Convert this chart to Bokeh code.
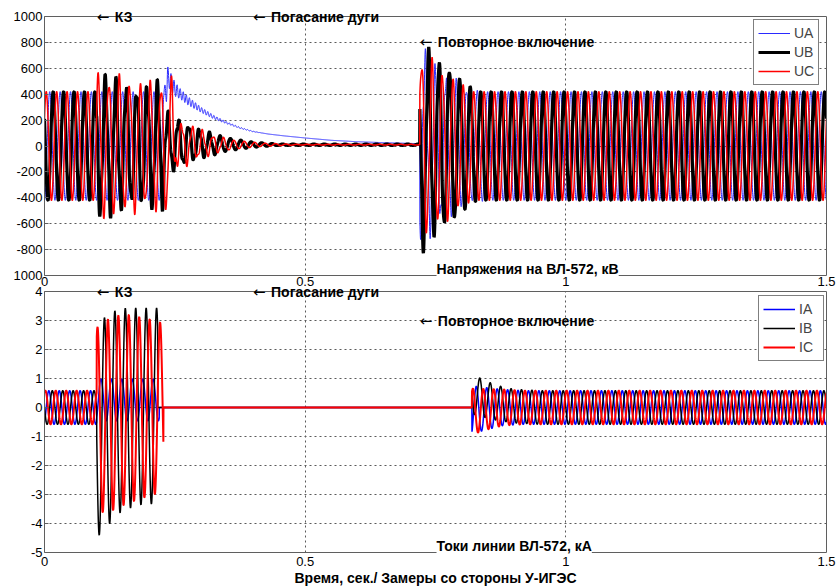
import numpy as np
from bokeh.plotting import figure
from bokeh.models import Range1d, LinearAxis, FixedTicker, Label, Span
from bokeh.layouts import column
from bokeh.embed import file_html
from bokeh.resources import INLINE

# ----------------- values -----------------
F_NET = 50.0          # network frequency, Hz (5 periods per 0.1 s in the picture)
T_END = 1.5
DT = 0.00025

time_ticks = [0, 0.5, 1, 1.5]
time_tick_labels = ["0", "0.5", "1", "1.5"]
u_ticks = [-1000, -800, -600, -400, -200, 0, 200, 400, 600, 800, 1000]
u_tick_labels = ["1000", "-800", "-600", "-400", "-200", "0", "200", "400", "600", "800", "1000"]
i_ticks = [-5, -4, -3, -2, -1, 0, 1, 2, 3, 4]
i_tick_labels = ["-5", "-4", "-3", "-2", "-1", "0", "1", "2", "3", "4"]
u_lim = (-1000, 1000)
i_lim = (-5, 4)

u_names = ["UA", "UB", "UC"]
i_names = ["IA", "IB", "IC"]

event_times = [0.1, 0.4, 0.72]
event_arrow = "\u2190"
event_texts = ["КЗ", "Погасание дуги", "Повторное включение"]
event_u_levels = [1000, 1000, 800]
event_i_levels = [4, 4, 3]

u_title = "Напряжения на ВЛ-572, кВ"
i_title = "Токи линии ВЛ-572, кА"
x_title = "Время, сек./ Замеры со стороны У-ИГЭС"

# phase angles of the 50 Hz component, degrees
u_phase = [-90, 150, 30]
i_phase = [-60, 180, 60]

# --- voltage UA, kV: envelope key points (time, amplitude, offset) ---
ua_t   = [0.0, 0.229, 0.236, 0.25, 0.275, 0.30, 0.325, 0.35, 0.375, 0.40, 0.43, 0.46, 0.50, 0.55, 0.60, 0.65, 0.7199, 0.72, 0.74, 0.77, 0.80, 0.83, 1.5]
ua_amp = [420, 420, 0, 0, 0, 0, 0, 0, 0, 0, 0, 0, 0, 0, 0, 0, 0, 680, 600, 520, 450, 420, 420]
ua_dc  = [0, 0, 540, 440, 350, 280, 222, 178, 140, 112, 92, 78, 62, 44, 33, 26, 18, 0, 0, 0, 0, 0, 0]
ua_ring_t   = [0.0, 0.229, 0.234, 0.26, 0.30, 0.35, 0.42, 0.7199, 0.72, 0.75, 0.80, 0.85, 1.5]
ua_ring_amp = [0, 0, 80, 40, 20, 8, 0, 0, 150, 100, 40, 0, 0]
ua_ring_f = 170

# --- voltage UB, kV ---
ub_t   = [0.0, 0.1, 0.1001, 0.13, 0.16, 0.20, 0.226, 0.232, 0.26, 0.30, 0.35, 0.40, 0.45, 0.7199, 0.72, 0.74, 0.78, 0.80, 0.83, 1.5]
ub_amp = [420, 420, 500, 490, 440, 440, 460, 220, 170, 100, 50, 20, 5, 5, 760, 680, 600, 500, 420, 420]
ub_dc  = [0, 0, 0, 0, 0, 0, 0, 20, 20, 15, 12, 10, 10, 10, 0, 0, 0, 0, 0, 0]
ub_ring_t   = [0.0, 0.1, 0.1001, 0.226, 0.24, 0.35, 0.7199, 0.72, 0.76, 0.82, 1.5]
ub_ring_amp = [0, 0, 65, 65, 40, 0, 0, 100, 60, 0, 0]
ub_ring_f = 140

# --- voltage UC, kV ---
uc_t   = [0.0, 0.1, 0.1001, 0.14, 0.18, 0.22, 0.245, 0.252, 0.28, 0.32, 0.36, 0.42, 0.48, 0.7199, 0.72, 0.74, 0.78, 0.82, 1.5]
uc_amp = [420, 420, 520, 500, 460, 460, 480, 170, 130, 70, 35, 12, 3, 3, 680, 620, 520, 420, 420]
uc_dc  = [0, 0, 0, 0, 0, 0, 0, 15, 15, 12, 10, 10, 10, 10, 0, 0, 0, 0, 0]
uc_ring_t   = [0.0, 0.1, 0.1001, 0.245, 0.26, 0.36, 0.7199, 0.72, 0.76, 0.82, 1.5]
uc_ring_amp = [0, 0, 65, 65, 40, 0, 0, 100, 60, 0, 0]
uc_ring_f = 120

# --- current IA, kA ---
ia_t   = [0.0, 0.1, 0.1001, 0.22, 0.2201, 0.8199, 0.82, 0.84, 0.88, 0.92, 1.5]
ia_amp = [0.58, 0.58, 0.72, 0.72, 0, 0, 0.85, 0.75, 0.62, 0.58, 0.58]
ia_dc  = [0, 0, 0.26, 0.26, 0, 0, -0.10, -0.05, 0, 0, 0]

# --- current IB, kA ---
ib_t   = [0.0, 0.1, 0.1001, 0.13, 0.15, 0.19, 0.217, 0.2171, 0.8199, 0.82, 0.84, 0.87, 0.90, 0.95, 1.5]
ib_amp = [0.58, 0.58, 3.70, 3.60, 3.48, 3.38, 3.38, 0, 0, 0.70, 0.64, 0.60, 0.58, 0.58, 0.58]
ib_dc  = [0, 0, -0.80, -0.30, -0.06, 0.05, 0.05, 0, 0, 0.48, 0.32, 0.15, 0.05, 0, 0]

# --- current IC, kA ---
ic_t   = [0.0, 0.1, 0.1001, 0.13, 0.16, 0.20, 0.228, 0.2281, 0.8199, 0.82, 0.84, 0.88, 0.92, 1.5]
ic_amp = [0.58, 0.58, 3.20, 3.35, 3.25, 3.05, 2.90, 0, 0, 0.80, 0.72, 0.62, 0.58, 0.58]
ic_dc  = [0, 0, -0.45, -0.20, -0.05, 0, 0, 0, 0, -0.15, -0.08, 0, 0, 0]

# ----------------- build waveforms -----------------
t = np.arange(0, T_END + DT / 2, DT)


def wave(key_t, amp, dc, phase_deg, ring_t=None, ring_amp=None, ring_f=None):
    a = np.interp(t, key_t, amp)
    d = np.interp(t, key_t, dc)
    y = d + a * np.sin(2 * np.pi * F_NET * t + np.radians(phase_deg))
    if ring_t is not None:
        y = y + np.interp(t, ring_t, ring_amp) * np.sin(2 * np.pi * ring_f * t)
    return y


U = [
    wave(ua_t, ua_amp, ua_dc, u_phase[0], ua_ring_t, ua_ring_amp, ua_ring_f),
    wave(ub_t, ub_amp, ub_dc, u_phase[1], ub_ring_t, ub_ring_amp, ub_ring_f),
    wave(uc_t, uc_amp, uc_dc, u_phase[2], uc_ring_t, uc_ring_amp, uc_ring_f),
]
I = [
    wave(ia_t, ia_amp, ia_dc, i_phase[0]),
    wave(ib_t, ib_amp, ib_dc, i_phase[1]),
    wave(ic_t, ic_amp, ic_dc, i_phase[2]),
]

# ----------------- styling / layout -----------------
FONT = "Liberation Sans"
AX = "#5f5f5f"
GRID = "#5a5a5a"
COLORS = ["#0000ff", "#000000", "#ff0000"]
U_COLORS = ["#2a2aff", "#000000", "#ff0000"]
U_WIDTHS = [1, 3.2, 1.5]
I_WIDTHS = [1.5, 1.5, 2]
FRAME_W = 782


def style_axis(ax, ticks, labels, standoff=2, line=True):
    ax.ticker = FixedTicker(ticks=ticks)
    ax.major_label_overrides = {tk: lb for tk, lb in zip(ticks, labels)}
    ax.axis_line_color = AX if line else None
    ax.axis_line_width = 1
    ax.major_tick_line_color = AX if line else None
    ax.major_tick_in = 4 if line else 0
    ax.major_tick_out = 0
    ax.minor_tick_line_color = None
    ax.major_label_text_font = FONT
    ax.major_label_text_color = "black"
    ax.major_label_text_font_size = "13px"
    ax.major_label_standoff = standoff


def make_fig(lim, box_h, pad_top, pad_bot, border_top, border_bot):
    # the Bokeh frame is a little taller than the drawn box so that texts
    # sitting on the box edges are not cut off
    per_px = (lim[1] - lim[0]) / box_h
    yr = Range1d(lim[0] - pad_bot * per_px, lim[1] + pad_top * per_px)
    p = figure(x_range=Range1d(0, 1.5), y_range=yr,
               frame_width=FRAME_W, frame_height=box_h + pad_top + pad_bot,
               min_border_left=44, min_border_right=10,
               min_border_top=border_top, min_border_bottom=border_bot,
               output_backend="svg", toolbar_location=None)
    p.outline_line_color = None
    p.background_fill_color = "white"
    p.xgrid.ticker = FixedTicker(ticks=time_ticks)
    p.grid.grid_line_color = GRID
    p.grid.grid_line_dash = "2 3"
    p.grid.grid_line_width = 1
    for g in p.xgrid:
        if hasattr(g, "cross_bounds"):
            g.cross_bounds = lim
    # box: left axis line (bounded), right line, top/bottom spans
    p.yaxis[0].bounds = lim
    ax_r = LinearAxis(ticker=FixedTicker(ticks=[]), bounds=lim,
                      axis_line_color=AX, major_tick_line_color=None,
                      minor_tick_line_color=None)
    p.add_layout(ax_r, "right")
    for loc in lim:
        p.add_layout(Span(location=loc, dimension="width", line_color=AX, line_width=1))
    return p


def add_events(p, levels):
    for tx, txt, lv in zip(event_times, event_texts, levels):
        p.add_layout(Label(x=tx, y=lv, text=event_arrow, text_font="DejaVu Sans",
                           text_font_size="15px", text_baseline="middle", text_align="left",
                           text_color="black"))
        p.add_layout(Label(x=tx, y=lv, x_offset=18, text=txt, text_font=FONT,
                           text_font_size="14px", text_font_style="bold",
                           text_baseline="middle", text_align="left", text_color="black"))


def add_title(p, y0, txt):
    p.add_layout(Label(x=0.752, y=y0, y_offset=7, text=txt, text_font=FONT,
                       text_font_size="14px", text_font_style="bold", text_baseline="middle",
                       text_align="left", text_color="black", background_fill_color="white"))


def style_legend(p, loc):
    lg = p.legend[0]
    lg.location = loc
    lg.margin = 0
    lg.padding = 4
    lg.spacing = 1
    lg.glyph_width = 32
    lg.glyph_height = 18
    lg.label_height = 18
    lg.label_standoff = 4
    lg.label_text_font = FONT
    lg.label_text_font_size = "14px"
    lg.border_line_color = "black"
    lg.border_line_width = 1
    lg.background_fill_color = "white"
    lg.background_fill_alpha = 1


# ---- top: voltages ----
p1 = make_fig(u_lim, 259, 8, 8, 8, 0)
p1.ygrid.ticker = FixedTicker(ticks=u_ticks)
style_axis(p1.yaxis[0], u_ticks, u_tick_labels)
style_axis(p1.xaxis[0], time_ticks, time_tick_labels, standoff=-7, line=False)

for y, name, c, w in zip(U, u_names, U_COLORS, U_WIDTHS):
    p1.line(t, y, line_color=c, line_width=w, legend_label=name)

add_events(p1, event_u_levels)
add_title(p1, u_lim[0], u_title)
style_legend(p1, (709, 275 - 13 - 64))

# ---- bottom: currents ----
p2 = make_fig(i_lim, 261, 8, 4, 0, 0)
p2.ygrid.ticker = FixedTicker(ticks=i_ticks)
style_axis(p2.yaxis[0], i_ticks, i_tick_labels)
style_axis(p2.xaxis[0], time_ticks, time_tick_labels, standoff=0, line=False)
p2.xaxis[0].axis_label = x_title
p2.xaxis[0].axis_label_text_font = FONT
p2.xaxis[0].axis_label_text_font_size = "14px"
p2.xaxis[0].axis_label_text_font_style = "bold"
p2.xaxis[0].axis_label_text_color = "black"
p2.xaxis[0].axis_label_standoff = 1
p2.border_fill_color = None
p2.background_fill_color = None
p2.margin = (-5, 0, 0, 0)

for y, name, c, w in zip(I, i_names, COLORS, I_WIDTHS):
    p2.line(t, y, line_color=c, line_width=w, legend_label=name)

add_events(p2, event_i_levels)
add_title(p2, i_lim[0], i_title)
style_legend(p2, (714, 273 - 14 - 64))

layout = column(p1, p2)
open("out.html", "w").write(file_html(layout, INLINE))
